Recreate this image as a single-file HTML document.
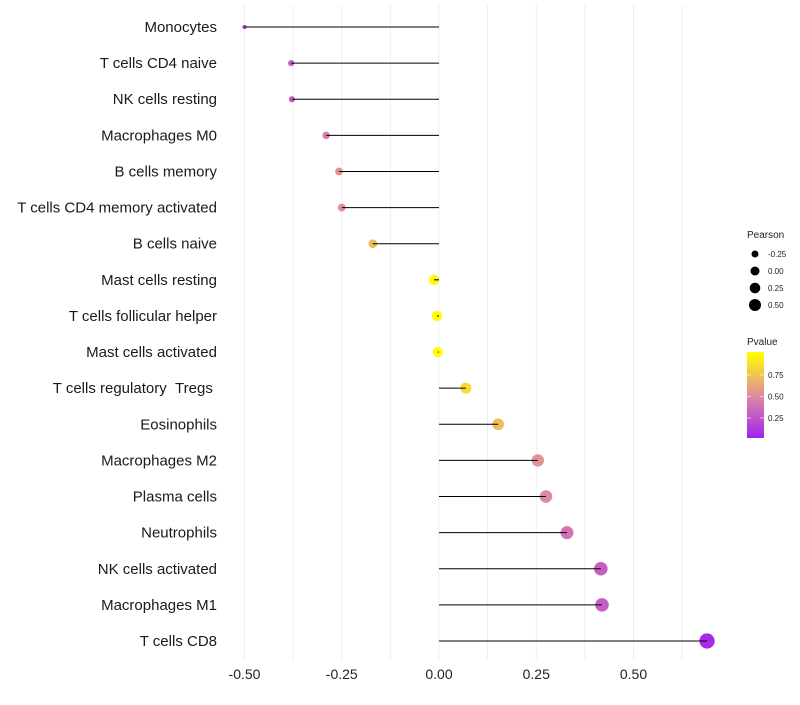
<!DOCTYPE html>
<html><head><meta charset="utf-8"><style>
body{margin:0;background:#fff;font-family:"Liberation Sans",sans-serif}
</style></head><body>
<svg id="c" width="800" height="700" xmlns="http://www.w3.org/2000/svg"></svg>
<script>
const categories=["Monocytes","T cells CD4 naive","NK cells resting","Macrophages M0","B cells memory","T cells CD4 memory activated","B cells naive","Mast cells resting","T cells follicular helper","Mast cells activated","T cells regulatory\u00a0\u00a0Tregs\u00a0","Eosinophils","Macrophages M2","Plasma cells","Neutrophils","NK cells activated","Macrophages M1","T cells CD8"];
const pearson=[-0.50,-0.38,-0.378,-0.29,-0.257,-0.25,-0.17,-0.013,-0.005,-0.003,0.069,0.152,0.254,0.275,0.329,0.416,0.419,0.689];
const pvalue=[0.08,0.3,0.3,0.45,0.55,0.55,0.72,0.98,0.99,1.0,0.85,0.72,0.55,0.5,0.4,0.3,0.3,0.05];
const xTicks=[-0.5,-0.25,0,0.25,0.5];
const xTickLabels=["-0.50","-0.25","0.00","0.25","0.50"];
const sizeLegend=[-0.25,0,0.25,0.5];
const sizeLegendLabels=["-0.25","0.00","0.25","0.50"];
const colorTicks=[0.75,0.5,0.25];

const NS="http://www.w3.org/2000/svg",svg=document.getElementById('c');
const x=v=>439+v*389;
const y=i=>27+i*(614/(categories.length-1));
const rad=v=>Math.sqrt(Math.max(2,27+45.5*v));
const legRad=v=>Math.sqrt(20.2+31.7*v);
function col(p){
  const stops=[[0,[160,32,240]],[0.5,[222,136,165]],[1,[255,255,0]]];
  p=Math.max(0,Math.min(1,p));
  let a=stops[0],b=stops[1];if(p>0.5){a=stops[1];b=stops[2];}
  const t=(p-a[0])/(b[0]-a[0]);
  return 'rgb('+a[1].map((c,k)=>Math.round(c+(b[1][k]-c)*t)).join(',')+')';
}
function el(t,a,txt){const e=document.createElementNS(NS,t);for(const k in a)e.setAttribute(k,a[k]);if(txt!=null)e.textContent=txt;svg.appendChild(e);return e;}

for(let g=-0.5;g<=0.7;g+=0.125){
  const gl=el('line',{x1:x(g),x2:x(g),y1:5,y2:660,stroke:'#ebebeb','stroke-width':0.8});
  
  
}
xTicks.forEach((t,i)=>{
  const tl=el('text',{x:x(t),y:679,'text-anchor':'middle','font-size':14,fill:'#222'},xTickLabels[i]);
  
  
});
categories.forEach((c,i)=>{
  const lb=el('text',{x:217,y:y(i)+5,'text-anchor':'end','font-size':15,fill:'#1a1a1a'},c);
  
  
  const pt=el('circle',{cx:x(pearson[i]),cy:y(i),r:rad(pearson[i]),fill:col(pvalue[i])});
  
  
  const ln=el('line',{x1:x(0),x2:x(pearson[i]),y1:y(i),y2:y(i),stroke:'#000','stroke-width':1});
  
  
});
const st=el('text',{x:747,y:238,'font-size':10,fill:'#222'},'Pearson');


sizeLegend.forEach((v,i)=>{
  const cy=254+i*17;
  const d=el('circle',{cx:755,cy:cy,r:legRad(v),fill:'#000'});
  
  
  const t=el('text',{x:768,y:cy+3,'font-size':8,fill:'#222'},sizeLegendLabels[i]);
  
  
});
const ct=el('text',{x:747,y:345,'font-size':10,fill:'#222'},'Pvalue');


const defs=el('defs',{});
const lg=document.createElementNS(NS,'linearGradient');lg.setAttribute('id','g');lg.setAttribute('x1',0);lg.setAttribute('y1',1);lg.setAttribute('x2',0);lg.setAttribute('y2',0);
defs.appendChild(lg);
for(let k=0;k<=10;k++){const s=document.createElementNS(NS,'stop');s.setAttribute('offset',k/10);s.setAttribute('stop-color',col(0.017+k/10*1.0));lg.appendChild(s);}
const cb=el('rect',{x:747,y:352,width:17,height:86,fill:'url(#g)'});


colorTicks.forEach(v=>{
  const cy=352+(1.017-v)*86;
  el('line',{x1:747,x2:751,y1:cy,y2:cy,stroke:'#fff','stroke-width':0.6});
  el('line',{x1:760,x2:764,y1:cy,y2:cy,stroke:'#fff','stroke-width':0.6});
  const t=el('text',{x:768,y:cy+3,'font-size':8,fill:'#222'},v.toFixed(2));
  
  
});
</script>
</body></html>
